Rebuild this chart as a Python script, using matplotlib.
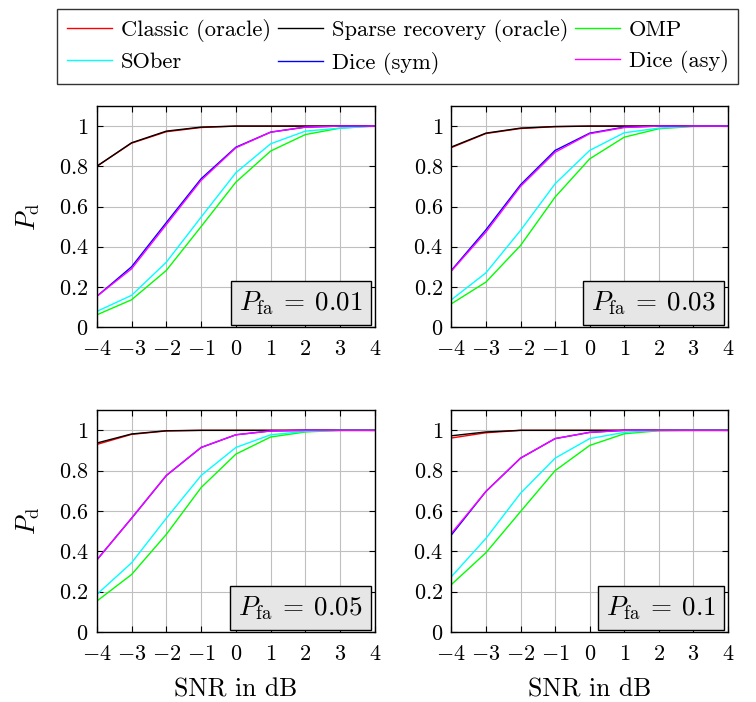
import numpy as np
import matplotlib
matplotlib.use("Agg")
import matplotlib.pyplot as plt

plt.rcParams['font.family'] = 'cmr10'
plt.rcParams['mathtext.fontset'] = 'cm'
plt.rcParams['axes.formatter.use_mathtext'] = True

snr = [-4, -3, -2, -1, 0, 1, 2, 3, 4]
pfa_labels = ['0.01', '0.03', '0.05', '0.1']

# detection probabilities per panel (Pfa = 0.01, 0.03, 0.05, 0.1)
classic = [
    [0.80, 0.915, 0.972, 0.993, 1.0, 1.0, 1.0, 1.0, 1.0],
    [0.893, 0.963, 0.988, 0.997, 1.0, 1.0, 1.0, 1.0, 1.0],
    [0.930, 0.980, 0.997, 1.0, 1.0, 1.0, 1.0, 1.0, 1.0],
    [0.962, 0.988, 1.0, 1.0, 1.0, 1.0, 1.0, 1.0, 1.0],
]
sparse = [
    [0.80, 0.917, 0.975, 0.995, 1.0, 1.0, 1.0, 1.0, 1.0],
    [0.896, 0.965, 0.99, 0.998, 1.0, 1.0, 1.0, 1.0, 1.0],
    [0.937, 0.982, 0.998, 1.0, 1.0, 1.0, 1.0, 1.0, 1.0],
    [0.973, 0.992, 1.0, 1.0, 1.0, 1.0, 1.0, 1.0, 1.0],
]
omp = [
    [0.061, 0.136, 0.282, 0.50, 0.721, 0.876, 0.958, 0.99, 1.0],
    [0.116, 0.224, 0.406, 0.647, 0.837, 0.945, 0.987, 0.998, 1.0],
    [0.153, 0.285, 0.484, 0.716, 0.882, 0.967, 0.992, 1.0, 1.0],
    [0.235, 0.393, 0.597, 0.80, 0.925, 0.983, 0.998, 1.0, 1.0],
]
sober = [
    [0.078, 0.158, 0.323, 0.547, 0.768, 0.912, 0.975, 0.99, 1.0],
    [0.136, 0.27, 0.481, 0.713, 0.879, 0.967, 0.99, 1.0, 1.0],
    [0.186, 0.343, 0.564, 0.776, 0.915, 0.978, 0.995, 1.0, 1.0],
    [0.274, 0.464, 0.688, 0.862, 0.959, 0.99, 1.0, 1.0, 1.0],
]
dice_sym = [
    [0.153, 0.30, 0.52, 0.738, 0.895, 0.97, 0.995, 1.0, 1.0],
    [0.282, 0.484, 0.708, 0.879, 0.965, 0.995, 1.0, 1.0, 1.0],
    [0.357, 0.564, 0.776, 0.915, 0.978, 0.997, 1.0, 1.0, 1.0],
    [0.481, 0.697, 0.862, 0.959, 0.99, 1.0, 1.0, 1.0, 1.0],
]
dice_asy = [
    [0.153, 0.29, 0.51, 0.73, 0.892, 0.97, 0.995, 1.0, 1.0],
    [0.279, 0.473, 0.70, 0.87, 0.962, 0.993, 1.0, 1.0, 1.0],
    [0.357, 0.564, 0.776, 0.915, 0.978, 0.997, 1.0, 1.0, 1.0],
    [0.489, 0.697, 0.862, 0.959, 0.99, 1.0, 1.0, 1.0, 1.0],
]

names = ['Classic (oracle)', 'Sparse recovery (oracle)', 'OMP',
         'SOber', 'Dice (sym)', 'Dice (asy)']
colors = ['red', 'black', '#00ff00', 'cyan', 'blue', 'magenta']
series = [classic, sparse, omp, sober, dice_sym, dice_asy]

fig = plt.figure(figsize=(7.56, 7.02), dpi=100)
pos = [(0.128, 0.534, 0.368, 0.315), (0.597, 0.534, 0.366, 0.315),
       (0.128, 0.0997, 0.368, 0.316), (0.597, 0.0997, 0.366, 0.316)]

handles = []
for k in range(4):
    ax = fig.add_axes(pos[k])
    for s, (data, c, n) in enumerate(zip(series, colors, names)):
        ln, = ax.plot(snr, data[k], color=c, lw=1.0, label=n)
        if k == 0:
            handles.append(ln)
    ax.set_xlim(-4, 4)
    ax.set_ylim(0, 1.1)
    ax.set_xticks(snr)
    ax.set_xticklabels(['$%d$' % v if v >= 0 else r'$-%d$' % -v for v in snr])
    ax.set_yticks([0, 0.2, 0.4, 0.6, 0.8, 1.0])
    ax.set_yticklabels(['$0$', '$0.2$', '$0.4$', '$0.6$', '$0.8$', '$1$'])
    ax.tick_params(direction='in', top=True, right=True, labelsize=16,
                   length=4, pad=6)
    ax.tick_params(axis='x', pad=9)
    ax.grid(True, color='#bfbfbf', lw=0.8)
    ax.set_axisbelow(True)
    for sp in ax.spines.values():
        sp.set_linewidth(1.0)
    ax.text(0.955, 0.045, r'$P_{\mathrm{fa}}\:=\:%s$' % pfa_labels[k],
            transform=ax.transAxes, ha='right', va='bottom', fontsize=19.5,
            bbox=dict(boxstyle='square,pad=0.3', fc='#e6e6e6', ec='black', lw=1.0))
    if k % 2 == 0:
        ax.set_ylabel(r'$P_{\mathrm{d}}$', fontsize=19, labelpad=12)
    if k >= 2:
        ax.set_xlabel('SNR in dB', fontsize=18.5, labelpad=10)

# legend row-wise order with column-major filling
order = [0, 3, 1, 4, 2, 5]
leg = fig.legend([handles[i] for i in order], [names[i] for i in order],
                 ncol=3, loc='upper left', bbox_to_anchor=(0.07, 0.993),
                 fontsize=16.2, frameon=True, fancybox=False, edgecolor='black',
                 handlelength=2.0, columnspacing=0.3, handletextpad=0.4,
                 borderpad=0.42, labelspacing=0.45, borderaxespad=0.2)
leg.get_frame().set_linewidth(1.0)

fig.savefig('out.png', dpi=100)
